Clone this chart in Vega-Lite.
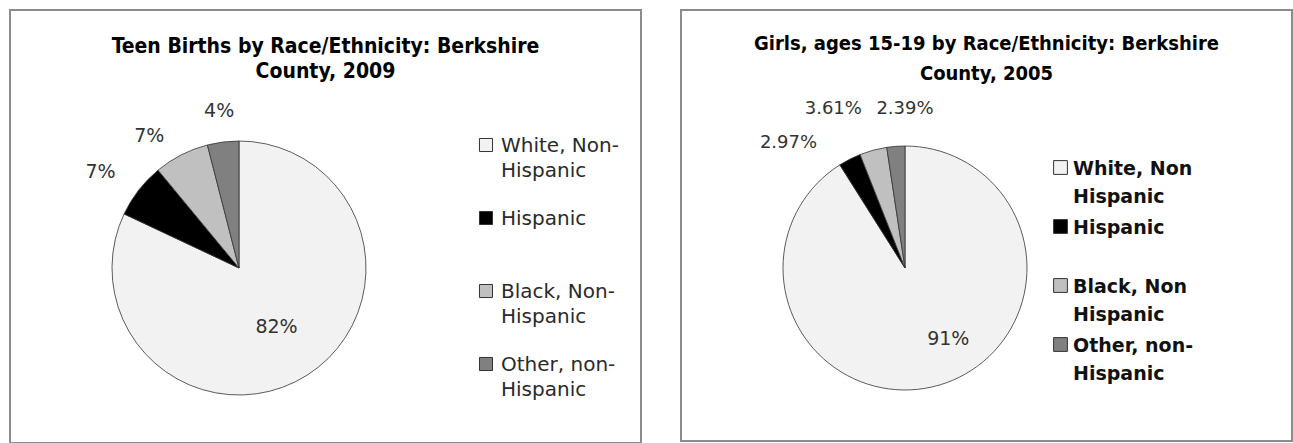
{
  "$schema": "https://vega.github.io/schema/vega-lite/v6.json",
  "padding": {"left": 9, "top": 9, "right": 0, "bottom": 0},
  "background": "white",
  "config": {
    "view": {"stroke": "#8c8c8c", "strokeWidth": 2},
    "concat": {"spacing": 38}
  },
  "datasets": {
    "teen": [
      {"rank": 1, "cat": "White, Non-Hispanic", "pct": 0.82},
      {"rank": 2, "cat": "Hispanic", "pct": 0.07},
      {"rank": 3, "cat": "Black, Non-Hispanic", "pct": 0.07},
      {"rank": 4, "cat": "Other, non-Hispanic", "pct": 0.04}
    ],
    "girls": [
      {"rank": 1, "cat": "White, Non Hispanic", "pct": 0.9103},
      {"rank": 2, "cat": "Hispanic", "pct": 0.0297},
      {"rank": 3, "cat": "Black, Non Hispanic", "pct": 0.0361},
      {"rank": 4, "cat": "Other, non-Hispanic", "pct": 0.0239}
    ]
  },
  "resolve": {"scale": {"color": "independent", "theta": "independent"}, "legend": {"color": "independent"}},
  "hconcat": [
    {
      "width": 631,
      "height": 433,
      "view": {"stroke": "#8c8c8c", "strokeWidth": 2},
      "data": {"name": "teen"},
      "title": {
        "text": ["Teen Births by Race/Ethnicity: Berkshire", "County, 2009"],
        "anchor": "middle",
        "offset": -72,
        "font": "DejaVu Sans Condensed, DejaVu Sans, sans-serif",
        "fontSize": 21,
        "fontWeight": "bold",
        "lineHeight": 25,
        "color": "#000000"
      },
      "encoding": {
        "theta": {"field": "pct", "type": "quantitative", "stack": true},
        "order": {"field": "rank", "type": "quantitative"}
      },
      "layer": [
        {
          "mark": {"type": "arc", "x": 229, "y": 258, "outerRadius": 127, "stroke": "#333333", "strokeWidth": 0.8},
          "encoding": {
            "color": {
              "field": "cat",
              "type": "nominal",
              "scale": {
                "domain": ["White, Non-Hispanic", "Hispanic", "Black, Non-Hispanic", "Other, non-Hispanic"],
                "range": ["#f2f2f2", "#000000", "#c0c0c0", "#808080"]
              },
              "legend": {
                "title": null,
                "orient": "none",
                "legendX": 466,
                "legendY": 125,
                "padding": 0,
                "symbolType": "square",
                "symbolSize": 170,
                "symbolStrokeColor": "#333333",
                "symbolStrokeWidth": 1,
                "labelFont": "DejaVu Sans",
                "labelFontSize": 20,
                "labelColor": "#2a2a2a",
                "labelOffset": 5,
                "labelLimit": 400,
                "labelBaseline": "alphabetic",
                "gridAlign": "all",
                "rowPadding": 27,
                "labelExpr": "indexof(datum.label, 'Hispanic') > 0 ? [slice(datum.label, 0, indexof(datum.label, 'Hispanic')), 'Hispanic'] : datum.label",
                "encode": {"labels": {"update": {"lineHeight": {"value": 25}, "dy": {"value": 7}}}}
              }
            }
          }
        },
        {
          "mark": {"type": "text", "x": 229, "y": 258, "radius": 70, "font": "DejaVu Sans", "fontSize": 19, "color": "#333333"},
          "encoding": {
            "detail": {"field": "cat"},
            "text": {"condition": {"test": "datum.rank == 1", "field": "pct", "type": "quantitative", "format": ".0%"}, "value": ""}
          }
        },
        {
          "mark": {"type": "text", "x": 229, "y": 258, "radius": 160, "dx": -12, "dy": 2, "font": "DejaVu Sans", "fontSize": 19, "color": "#333333"},
          "encoding": {
            "detail": {"field": "cat"},
            "text": {"condition": {"test": "datum.rank == 2", "field": "pct", "type": "quantitative", "format": ".0%"}, "value": ""}
          }
        },
        {
          "mark": {"type": "text", "x": 229, "y": 258, "radius": 160, "dx": -17, "dy": 11, "font": "DejaVu Sans", "fontSize": 19, "color": "#333333"},
          "encoding": {
            "detail": {"field": "cat"},
            "text": {"condition": {"test": "datum.rank == 3", "field": "pct", "type": "quantitative", "format": ".0%"}, "value": ""}
          }
        },
        {
          "mark": {"type": "text", "x": 229, "y": 258, "radius": 158, "font": "DejaVu Sans", "fontSize": 19, "color": "#333333"},
          "encoding": {
            "detail": {"field": "cat"},
            "text": {"condition": {"test": "datum.rank == 4", "field": "pct", "type": "quantitative", "format": ".0%"}, "value": ""}
          }
        }
      ]
    },
    {
      "width": 611,
      "height": 431,
      "view": {"stroke": "#8c8c8c", "strokeWidth": 2},
      "data": {"name": "girls"},
      "title": {
        "text": ["Girls, ages 15-19 by Race/Ethnicity: Berkshire", "County, 2005"],
        "anchor": "middle",
        "offset": -74,
        "font": "DejaVu Sans Condensed, DejaVu Sans, sans-serif",
        "fontSize": 20,
        "fontWeight": "bold",
        "lineHeight": 30,
        "color": "#000000"
      },
      "encoding": {
        "theta": {"field": "pct", "type": "quantitative", "stack": true},
        "order": {"field": "rank", "type": "quantitative"}
      },
      "layer": [
        {
          "mark": {"type": "arc", "x": 224, "y": 258, "outerRadius": 122, "stroke": "#333333", "strokeWidth": 0.8},
          "encoding": {
            "color": {
              "field": "cat",
              "type": "nominal",
              "scale": {
                "domain": ["White, Non Hispanic", "Hispanic", "Black, Non Hispanic", "Other, non-Hispanic"],
                "range": ["#f2f2f2", "#000000", "#c0c0c0", "#808080"]
              },
              "legend": {
                "title": null,
                "orient": "none",
                "legendX": 370,
                "legendY": 148,
                "padding": 0,
                "symbolType": "square",
                "symbolSize": 190,
                "symbolStrokeColor": "#333333",
                "symbolStrokeWidth": 1,
                "labelFont": "DejaVu Sans",
                "labelFontSize": 19,
                "labelFontWeight": "bold",
                "labelColor": "#111111",
                "labelOffset": 3,
                "labelLimit": 400,
                "labelBaseline": "alphabetic",
                "gridAlign": "all",
                "rowPadding": 10,
                "labelExpr": "indexof(datum.label, 'Hispanic') > 0 ? [slice(datum.label, 0, indexof(datum.label, 'Hispanic')), 'Hispanic'] : datum.label",
                "encode": {"labels": {"update": {"lineHeight": {"value": 28}, "dy": {"value": 7}}}}
              }
            }
          }
        },
        {
          "mark": {"type": "text", "x": 224, "y": 258, "radius": 80, "dx": 21, "dy": -6, "font": "DejaVu Sans", "fontSize": 19, "color": "#333333"},
          "encoding": {
            "detail": {"field": "cat"},
            "text": {"condition": {"test": "datum.rank == 1", "field": "pct", "type": "quantitative", "format": ".0%"}, "value": ""}
          }
        },
        {
          "mark": {"type": "text", "x": 224, "y": 258, "radius": 160, "dx": -44, "dy": 18, "font": "DejaVu Sans", "fontSize": 18, "color": "#333333"},
          "encoding": {
            "detail": {"field": "cat"},
            "text": {"condition": {"test": "datum.rank == 2", "field": "pct", "type": "quantitative", "format": ".2%"}, "value": ""}
          }
        },
        {
          "mark": {"type": "text", "x": 224, "y": 258, "radius": 160, "dx": -30, "dy": -5, "font": "DejaVu Sans", "fontSize": 18, "color": "#333333"},
          "encoding": {
            "detail": {"field": "cat"},
            "text": {"condition": {"test": "datum.rank == 3", "field": "pct", "type": "quantitative", "format": ".2%"}, "value": ""}
          }
        },
        {
          "mark": {"type": "text", "x": 224, "y": 258, "radius": 160, "dx": 12, "dy": 1, "font": "DejaVu Sans", "fontSize": 18, "color": "#333333"},
          "encoding": {
            "detail": {"field": "cat"},
            "text": {"condition": {"test": "datum.rank == 4", "field": "pct", "type": "quantitative", "format": ".2%"}, "value": ""}
          }
        }
      ]
    }
  ]
}
